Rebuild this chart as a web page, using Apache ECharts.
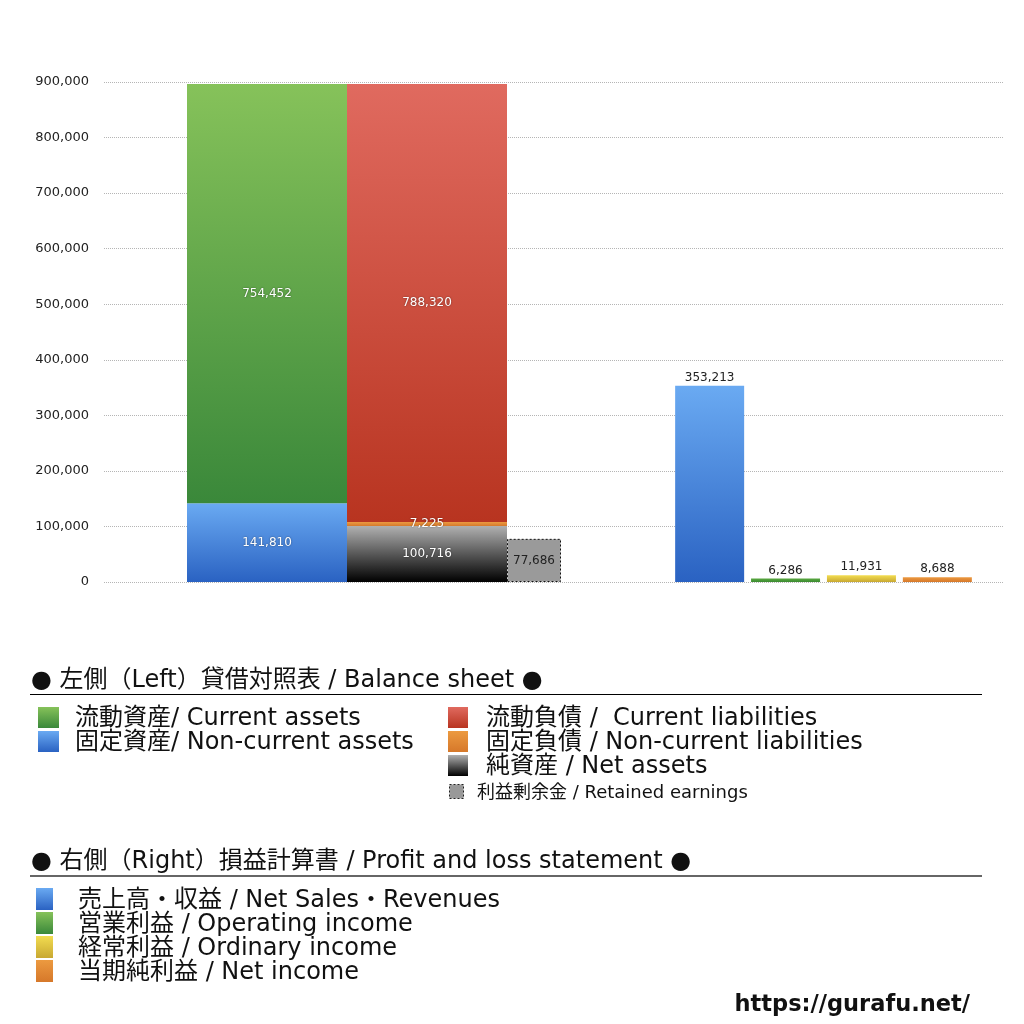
<!DOCTYPE html>
<html>
<head>
<meta charset="utf-8">
<script src="https://cdn.jsdelivr.net/npm/echarts@6/dist/echarts.min.js"></script>
<style>
html, body { margin: 0; padding: 0; background: #fff; }
#main { width: 1024px; height: 1024px; }
</style>
</head>
<body>
<div id="main"></div>
<script>
// 貸借対照表 (左側)
var bsCategory = ['貸借対照表'];
var currentAssets = [754452];
var nonCurrentAssets = [141810];
var currentLiabilities = [788320];
var nonCurrentLiabilities = [7225];
var netAssets = [100716];
var retainedEarnings = [77686];
// 損益計算書 (右側)
var plCategory = ['損益計算書'];
var netSales = [353213];
var operatingIncome = [6286];
var ordinaryIncome = [11931];
var netIncome = [8688];

var FONT = '"DejaVu Sans", "Noto Sans CJK JP", sans-serif';

function grad(top, bottom) {
    return new echarts.graphic.LinearGradient(0, 0, 0, 1, [
        { offset: 0, color: top },
        { offset: 1, color: bottom }
    ]);
}
var cGreen = ['#86c25a', '#3a883a'];
var cBlue = ['#6aaaf2', '#2a62c2'];
var cRed = ['#e06a5f', '#b83420'];
var cOrange = ['#ec9a40', '#d6782a'];
var cBlack = ['#b0b0b0', '#000000'];
var cYellow = ['#f2dc50', '#c8a832'];

function fmt(p) {
    return Number(p.value).toLocaleString('en-US');
}
var innerLabel = {
    show: true,
    position: 'inside',
    formatter: fmt,
    color: '#fff',
    fontSize: 12,
    fontFamily: FONT,
    textShadowColor: 'rgba(0,0,0,0.5)',
    textShadowBlur: 2
};
var topLabel = {
    show: true,
    position: 'top',
    distance: 2,
    formatter: fmt,
    color: '#222',
    fontSize: 12,
    fontFamily: FONT
};

var chartDom = document.getElementById('main');
var myChart = echarts.init(chartDom);

// 凡例 (graphic)
var g = [];
function txt(x, y, s, size, color) {
    g.push({ type: 'text', style: { x: x, y: y, text: s, fontSize: size, fontFamily: FONT, fill: color || '#111', verticalAlign: 'middle' } });
}
function box(x, y, w, h, c, extra) {
    var st = { fill: Array.isArray(c) ? grad(c[0], c[1]) : c };
    if (extra) { for (var k in extra) st[k] = extra[k]; }
    g.push({ type: 'rect', shape: { x: x, y: y, width: w, height: h }, style: st });
}
function hline(x1, x2, y, color, w) {
    g.push({ type: 'line', shape: { x1: x1, y1: y, x2: x2, y2: y }, style: { stroke: color, lineWidth: w } });
}

txt(31, 681, '● 左側（Left）貸借対照表 / Balance sheet ●', 24);
hline(30, 982, 694.5, '#000', 1);
box(38, 707, 21, 21, cGreen);
txt(75, 719, '流動資産/ Current assets', 24);
box(38, 731, 21, 21, cBlue);
txt(75, 743, '固定資産/ Non-current assets', 24);
box(448, 707, 20, 21, cRed);
txt(486, 719, '流動負債 /  Current liabilities', 24);
box(448, 731, 20, 21, cOrange);
txt(486, 743, '固定負債 / Non-current liabilities', 24);
box(448, 755, 20, 21, cBlack);
txt(486, 767, '純資産 / Net assets', 24);
box(449.5, 784.5, 14, 14, '#999', { stroke: '#222', lineWidth: 1, lineDash: [2, 2] });
txt(477, 793, '利益剰余金 / Retained earnings', 18);

txt(31, 862, '● 右側（Right）損益計算書 / Profit and loss statement ●', 24);
hline(30, 982, 876, '#666', 2);
box(36, 888, 17, 22, cBlue);
txt(78, 901, '売上高・収益 / Net Sales・Revenues', 24);
box(36, 912, 17, 22, cGreen);
txt(78, 925, '営業利益 / Operating income', 24);
box(36, 936, 17, 22, cYellow);
txt(78, 949, '経常利益 / Ordinary income', 24);
box(36, 960, 17, 22, cOrange);
txt(78, 973, '当期純利益 / Net income', 24);

g.push({ type: 'text', style: { x: 970, y: 1005, text: 'https://gurafu.net/', fontSize: 22.5, fontWeight: 'bold', fontFamily: FONT, fill: '#111', align: 'right', verticalAlign: 'middle' } });

var yCommon = {
    type: 'value',
    min: 0,
    max: 900000,
    interval: 100000,
    axisLine: { show: false },
    axisTick: { show: false },
    splitLine: { lineStyle: { type: 'dotted', color: '#b5b5b5' } }
};

var option;
option = {
    animation: false,
    textStyle: { fontFamily: FONT },
    grid: [
        { left: 104, top: 82, width: 540, height: 500 },
        { left: 644, top: 82, width: 359, height: 500 }
    ],
    xAxis: [
        { type: 'category', gridIndex: 0, data: bsCategory, show: false },
        { type: 'category', gridIndex: 1, data: plCategory, show: false }
    ],
    yAxis: [
        Object.assign({}, yCommon, {
            gridIndex: 0,
            axisLabel: {
                color: '#222', fontSize: 13, margin: 15, fontFamily: FONT,
                formatter: function (v) { return v.toLocaleString('en-US'); }
            }
        }),
        Object.assign({}, yCommon, { gridIndex: 1, axisLabel: { show: false } })
    ],
    graphic: g,
    series: [
        { name: '固定資産', type: 'bar', stack: 'assets', xAxisIndex: 0, yAxisIndex: 0, barWidth: 160, barGap: 0,
          data: nonCurrentAssets, itemStyle: { color: grad(cBlue[0], cBlue[1]) }, label: innerLabel },
        { name: '流動資産', type: 'bar', stack: 'assets', xAxisIndex: 0, yAxisIndex: 0, barWidth: 160, barGap: 0,
          data: currentAssets, itemStyle: { color: grad(cGreen[0], cGreen[1]) }, label: innerLabel },
        { name: '純資産', type: 'bar', stack: 'liab', xAxisIndex: 0, yAxisIndex: 0, barWidth: 160, barGap: 0,
          data: netAssets, itemStyle: { color: grad(cBlack[0], cBlack[1]) }, label: innerLabel },
        { name: '固定負債', type: 'bar', stack: 'liab', xAxisIndex: 0, yAxisIndex: 0, barWidth: 160, barGap: 0,
          data: nonCurrentLiabilities, itemStyle: { color: grad(cOrange[0], cOrange[1]) }, label: innerLabel },
        { name: '流動負債', type: 'bar', stack: 'liab', xAxisIndex: 0, yAxisIndex: 0, barWidth: 160, barGap: 0,
          data: currentLiabilities, itemStyle: { color: grad(cRed[0], cRed[1]) }, label: innerLabel },
        { name: '利益剰余金', type: 'bar', xAxisIndex: 0, yAxisIndex: 0, barWidth: 54, barGap: 0,
          data: retainedEarnings,
          itemStyle: { color: '#9a9a9a', borderColor: '#111', borderWidth: 1, borderType: [2, 2] },
          label: Object.assign({}, innerLabel, { color: '#222', textShadowBlur: 0 }) },

        { name: '売上高・収益', type: 'bar', xAxisIndex: 1, yAxisIndex: 1, barWidth: 69, barGap: '10%',
          data: netSales, itemStyle: { color: grad(cBlue[0], cBlue[1]) }, label: topLabel },
        { name: '営業利益', type: 'bar', xAxisIndex: 1, yAxisIndex: 1, barWidth: 69, barGap: '10%',
          data: operatingIncome, itemStyle: { color: grad('#5aa840', '#3a8a30') }, label: topLabel },
        { name: '経常利益', type: 'bar', xAxisIndex: 1, yAxisIndex: 1, barWidth: 69, barGap: '10%',
          data: ordinaryIncome, itemStyle: { color: grad(cYellow[0], cYellow[1]) }, label: topLabel },
        { name: '当期純利益', type: 'bar', xAxisIndex: 1, yAxisIndex: 1, barWidth: 69, barGap: '10%',
          data: netIncome, itemStyle: { color: grad(cOrange[0], cOrange[1]) }, label: topLabel }
    ]
};
option && myChart.setOption(option);
</script>
</body>
</html>
